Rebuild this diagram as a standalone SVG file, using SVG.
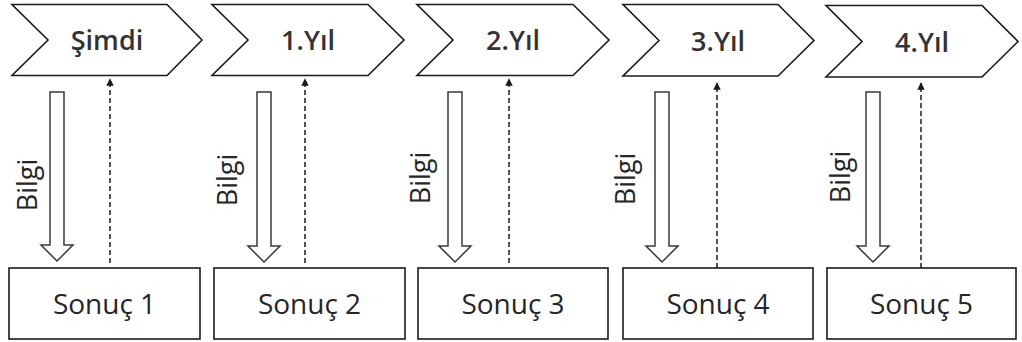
<svg xmlns="http://www.w3.org/2000/svg" width="1022" height="342" viewBox="0 0 1022 342">
<style>
.chev{fill:#fff;stroke:#1a1a1a;stroke-width:1.6;stroke-linejoin:miter}
.box{fill:#fff;stroke:#1a1a1a;stroke-width:1.6}
.ht{font-family:"Open Sans","Liberation Sans",sans-serif;font-size:27px;font-weight:600;fill:#333;text-anchor:middle}
.bt{font-family:"Open Sans","Liberation Sans",sans-serif;font-size:28px;fill:#262626;text-anchor:middle}
.lbl{font-family:"Open Sans","Liberation Sans",sans-serif;font-size:27px;fill:#262626;text-anchor:middle}
.hollow{fill:#fff;stroke:#3a3a3a;stroke-width:1.5;stroke-linejoin:miter}
.dash{fill:none;stroke:#1a1a1a;stroke-width:1.5;stroke-dasharray:5 3}
</style>
<defs>
<marker id="ah" viewBox="0 0 10 10" refX="9" refY="5" markerWidth="5" markerHeight="5" orient="auto" markerUnits="strokeWidth">
<path d="M0,0 L10,5 L0,10 z" fill="#1a1a1a"/>
</marker>
</defs>

<g id="step0">
<polygon class="chev" points="12,4.5 167,4.5 202,40 167,75.5 12,75.5 48,40"/>
<text class="ht" x="107" y="50">Şimdi</text>
</g>
<g id="step1">
<polygon class="chev" points="212,4.5 368,4.5 404,40 368,75.5 212,75.5 248,40"/>
<text class="ht" x="308" y="50">1.Yıl</text>
</g>
<g id="step2">
<polygon class="chev" points="417,4.5 573,4.5 609,40 573,75.5 417,75.5 453,40"/>
<text class="ht" x="513" y="50">2.Yıl</text>
</g>
<g id="step3">
<polygon class="chev" points="623,4.5 778,4.5 814,40.5 778,76 623,76 659,40.5"/>
<text class="ht" x="718" y="51">3.Yıl</text>
</g>
<g id="step4">
<polygon class="chev" points="826,5.5 982,5.5 1018,41.5 982,77 826,77 862,41.5"/>
<text class="ht" x="922" y="52">4.Yıl</text>
</g>

<g id="result1">
<rect class="box" x="9" y="268" width="191" height="71"/>
<text class="bt" x="104.5" y="314">Sonuç 1</text>
</g>
<g id="result2">
<rect class="box" x="214" y="268" width="191" height="71"/>
<text class="bt" x="309.5" y="314">Sonuç 2</text>
</g>
<g id="result3">
<rect class="box" x="418" y="268" width="190" height="71"/>
<text class="bt" x="513" y="314">Sonuç 3</text>
</g>
<g id="result4">
<rect class="box" x="623" y="268" width="190" height="71"/>
<text class="bt" x="718" y="314">Sonuç 4</text>
</g>
<g id="result5">
<rect class="box" x="827" y="268" width="189" height="71"/>
<text class="bt" x="921.5" y="314">Sonuç 5</text>
</g>

<g id="connectors">
<path class="hollow" d="M50,92 H64 V245 H73 L57,261 L41,245 H50 Z"/>
<path class="hollow" d="M257,92 H271 V246 H280 L264,262 L248,246 H257 Z"/>
<path class="hollow" d="M448,92 H462 V246 H471 L455,262 L439,246 H448 Z"/>
<path class="hollow" d="M655,92 H669 V246 H678 L662,262 L646,246 H655 Z"/>
<path class="hollow" d="M866,92 H880 V246 H889 L873,262 L857,246 H866 Z"/>
<path class="dash" d="M110,263 V79" marker-end="url(#ah)"/>
<path class="dash" d="M305,263 V79" marker-end="url(#ah)"/>
<path class="dash" d="M509,263 V79" marker-end="url(#ah)"/>
<path class="dash" d="M717,268 V83" marker-end="url(#ah)"/>
<path class="dash" d="M921,268 V83" marker-end="url(#ah)"/>
<text class="lbl" transform="translate(37,185) rotate(-90)">Bilgi</text>
<text class="lbl" transform="translate(237,180) rotate(-90)">Bilgi</text>
<text class="lbl" transform="translate(430,178) rotate(-90)">Bilgi</text>
<text class="lbl" transform="translate(635,179) rotate(-90)">Bilgi</text>
<text class="lbl" transform="translate(850,177) rotate(-90)">Bilgi</text>
</g>
</svg>
